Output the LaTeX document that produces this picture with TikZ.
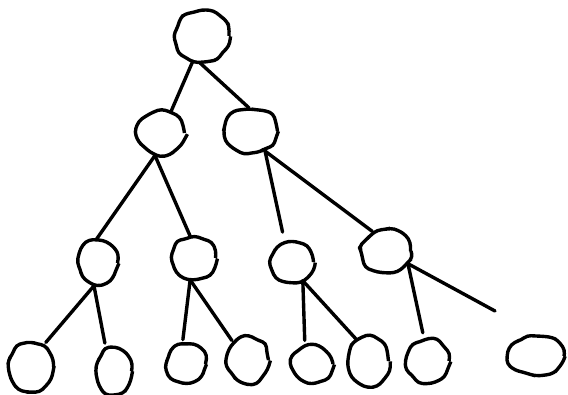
\documentclass[tikz,border=0pt]{standalone}
\usetikzlibrary{shapes.geometric,decorations.pathmorphing}
\tikzset{
  blob/.style={draw, ellipse, line width=3.4pt, inner sep=0pt, line join=round,
    decorate, decoration={random steps, segment length=8pt, amplitude=2pt},
    rounded corners=4pt},
  sketch/.style={line width=3.4pt, line cap=round},
}
\begin{document}
\begin{tikzpicture}[x=1pt, y=-1pt]
    \pgfmathsetseed{5}
    \useasboundingbox (0,0) rectangle (568,395);

    % Nodes (Blobs)
    \node[blob, minimum width=54pt, minimum height=50pt] (r) at (202,36) {};

    \node[blob, minimum width=47pt, minimum height=43pt] (nl) at (161,133) {};
    \node[blob, minimum width=53pt, minimum height=43pt] (nr) at (251,131) {};

    \node[blob, minimum width=39pt, minimum height=43pt] (a) at (98,263) {};
    \node[blob, minimum width=43pt, minimum height=41pt] (b) at (194,258) {};
    \node[blob, minimum width=43pt, minimum height=39pt] (c) at (292,262) {};
    \node[blob, minimum width=49pt, minimum height=43pt] (d) at (386,251) {};

    \node[blob, minimum width=45pt, minimum height=49pt] (l1) at (31,367) {};
    \node[blob, minimum width=35pt, minimum height=45pt] (l2) at (114,371) {};
    \node[blob, minimum width=39pt, minimum height=38pt] (l3) at (186,364) {};
    \node[blob, minimum width=41pt, minimum height=45pt] (l4) at (248,360) {};
    \node[blob, minimum width=42pt, minimum height=38pt] (l5) at (312,364) {};
    \node[blob, minimum width=39pt, minimum height=48pt] (l6) at (369,361) {};
    \node[blob, minimum width=42pt, minimum height=42pt] (l7) at (428,361) {};
    \node[blob, minimum width=56pt, minimum height=39pt] (l8) at (536,356) {};

    % Loose end of the long edge
    \coordinate (t8) at (495,311);

    % Edges
    \draw[sketch] (r.250) -- (nl.65);
    \draw[sketch] (r.265) -- (nr.95);

    \draw[sketch] (nl.255) -- (a.95);
    \draw[sketch] (nl.255) -- (b.100);

    \draw[sketch, shorten >=10pt] (nr.-55) -- (c.110);
    \draw[sketch] (nr.-55) -- (d.125);

    % lower level
    \draw[sketch, shorten >=3pt] (a.-100) -- (l1.60);
    \draw[sketch, shorten >=6pt] (a.-100) -- (l2.110);
    \draw[sketch, shorten >=4pt] (b.-100) -- (l3.100);
    \draw[sketch, shorten >=2pt] (b.-100) -- (l4.130);
    \draw[sketch, shorten >=4pt] (c.-60) -- (l5.110);
    \draw[sketch] (c.-60) -- (l6.120);
    \draw[sketch, shorten >=6pt] (d.-30) -- (l7.100);
    \draw[sketch] (d.-30) -- (t8);

\end{tikzpicture}
\end{document}
